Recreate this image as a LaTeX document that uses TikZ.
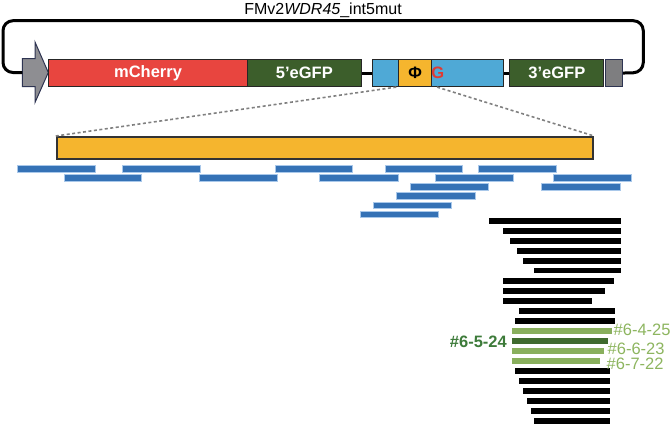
\documentclass[tikz,border=0pt]{standalone}
\usepackage{fontspec}
\setmainfont{Liberation Sans}
\definecolor{cherry}{HTML}{E8453F}
\definecolor{dgreen}{HTML}{3C5E2B}
\definecolor{lblue}{HTML}{4FA9D6}
\definecolor{gold}{HTML}{F5B52E}
\definecolor{navy}{HTML}{2E3452}
\definecolor{agray}{HTML}{8E8E92}
\definecolor{bgray}{HTML}{7E7E80}
\definecolor{rblue}{HTML}{3572B6}
\definecolor{rblueedge}{HTML}{A9C8EA}
\definecolor{lgreen}{HTML}{89AF5D}
\definecolor{mgreen}{HTML}{3F6A2E}
\definecolor{tgreen}{HTML}{8DB55F}
\definecolor{tdgreen}{HTML}{3D7B3A}
\definecolor{gred}{HTML}{E03A33}
\begin{document}
\begin{tikzpicture}[x=1pt,y=-1pt,
  part/.style={draw=black!85,line width=1.1pt,inner sep=0pt,anchor=north west,
    minimum height=27pt,font=\fontsize{16.5}{18}\selectfont\bfseries,text=white},
  link/.style={line width=3pt,black},
  zoomline/.style={line width=1.6pt,black!50,dash pattern=on 3pt off 2.5pt},
  readbar/.style={fill=rblue,draw=rblueedge,line width=0.6pt},
  blackbar/.style={fill=black},
  tag/.style={font=\fontsize{16.5}{18}\selectfont,text=tgreen,inner sep=0pt}]
\useasboundingbox (0,0) rectangle (671,424);
% title
\node[font=\fontsize{16}{18}\selectfont,inner sep=0pt] (title) at (323,10) {FMv2\textit{WDR45}\_int5mut};
% arrow
\draw[fill=agray,draw=navy,line width=1pt] (22.3,58.5) -- (35,58.5) -- (35,42) -- (48.3,72.5) -- (35,102.5) -- (35,86.5) -- (22.3,86.5) -- cycle;
\coordinate (arrL) at (22.3,72.5);
% parts
\node[part,fill=cherry,minimum width=198.4pt] (mch) at (48.3,59) {mCherry};
\node[part,fill=dgreen,minimum width=114.3pt] (g5) at (246.7,59) {5’eGFP};
\node[part,fill=lblue,minimum width=131.6pt] (intr) at (371.7,59) {};
\node[part,fill=gold,minimum width=32.7pt,text=black] (phi) at (398.3,59) {Φ};
\node[font=\fontsize{16.5}{18}\selectfont\bfseries,text=gred,inner sep=0pt] (G) at (437.7,72.5) {G};
\node[part,fill=dgreen,minimum width=94pt] (g3) at (509.3,59) {3’eGFP};
\node[part,fill=bgray,draw=navy,minimum width=16.7pt] (end) at (605,59) {};
% links
\draw[link] (g5.east) -- (intr.west);
\draw[link] (intr.east) -- (g3.west);
\draw[link,rounded corners=10pt] (end.east) -- (643.3,72.5) -- (643.3,20.7) -- (3,20.7) -- (3,72.5) -- (arrL);
% zoom
\node[draw=black!80,line width=1.8pt,fill=gold,inner sep=0pt,anchor=north west,minimum width=536.6pt,minimum height=21.7pt] (zoom) at (55.7,136) {};
\draw[zoomline] ([xshift=-2pt]phi.south west) -- (zoom.north west);
\draw[zoomline] ([xshift=5pt]phi.south east) -- (zoom.north east);
% reads
\foreach \a/\b/\y in {17.3/95.7/165.7, 122.7/200.7/165.7, 275.3/352.7/165.7, 385.7/462.7/165.7, 478/556/165.7,
  64/141/174.3, 199/277.3/174.3, 319.3/398.3/174.3, 435.3/513.3/174.3, 553.3/631.7/174.3,
  410.3/488.7/183.3, 541.3/620.7/183.3,
  396.7/475.7/192.3, 373/451/202, 360/438/211}
  \draw[readbar] (\a,\y) rectangle (\b,\y+6.5);
% clones
\foreach \a/\b/\y in {489.3/621/218, 502.7/621/228, 510/621/238, 517/621/248, 523/621/258, 534/621/267.5,
  502.7/614.3/278, 502.7/605/288, 502.7/592.3/298, 519/615/308, 515/615/318,
  515/610/368, 519/610/378, 523/610/388, 527/610/398, 531/610/408, 534/610/418}
  \fill[blackbar] (\a,\y) rectangle (\b,\y+5.8);
\fill[lgreen] (511.7,328) rectangle (611.7,333.8);
\fill[mgreen] (511.7,338) rectangle (608.3,343.8);
\fill[lgreen] (511.7,348) rectangle (604.3,353.8);
\fill[lgreen] (511.7,358) rectangle (600.3,363.8);
% labels
\node[tag,anchor=west] (c1) at (613.5,330) {\#6-4-25};
\node[tag,anchor=west] (c3) at (607.5,348.5) {\#6-6-23};
\node[tag,anchor=west] (c4) at (606.5,363.5) {\#6-7-22};
\node[tag,anchor=east,text=tdgreen,font=\fontsize{16.5}{18}\selectfont\bfseries] (c2) at (507,341.5) {\#6-5-24};
\end{tikzpicture}
\end{document}
